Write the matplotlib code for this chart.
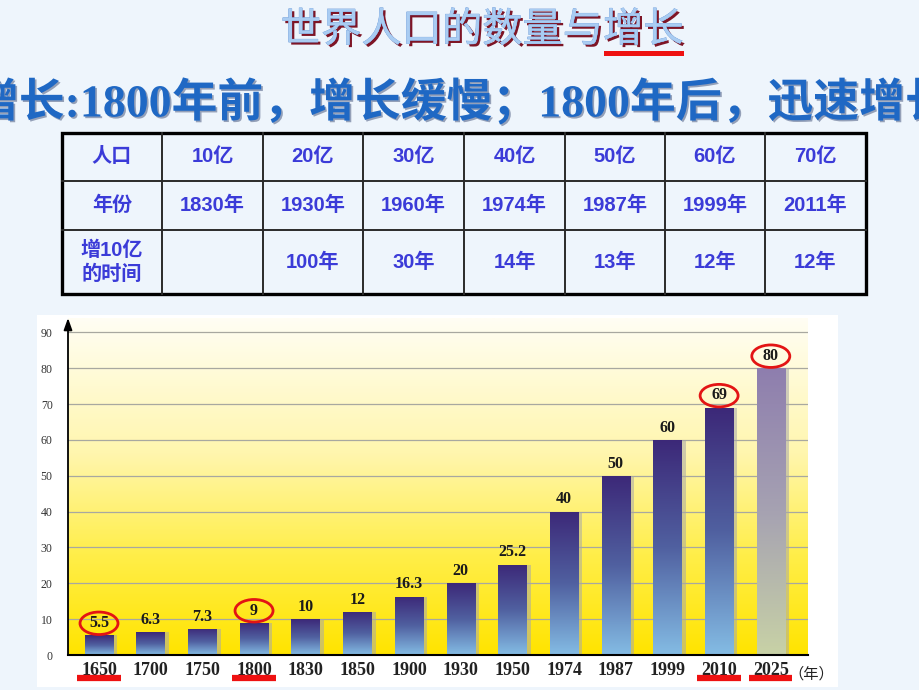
import numpy as np
import matplotlib
matplotlib.use('Agg')
import matplotlib.pyplot as plt
from matplotlib import patheffects as pe
from matplotlib.colors import LinearSegmentedColormap
from matplotlib.patches import Rectangle, Ellipse
from matplotlib.lines import Line2D
from matplotlib.transforms import ScaledTranslation, blended_transform_factory

plt.rcParams['font.family'] = ['Noto Sans CJK SC', 'DejaVu Sans']

# ---------------- data ----------------
title = '世界人口的数量与增长'
subtitle = '增长:1800年前，增长缓慢；1800年后，迅速增长'

table_row_heads = ['人口', '年份', '增10亿\n的时间']
table_pop = ['10亿', '20亿', '30亿', '40亿', '50亿', '60亿', '70亿']
table_year = ['1830年', '1930年', '1960年', '1974年', '1987年', '1999年', '2011年']
table_gap = ['', '100年', '30年', '14年', '13年', '12年', '12年']

years = ['1650', '1700', '1750', '1800', '1830', '1850', '1900',
         '1930', '1950', '1974', '1987', '1999', '2010', '2025']
population = [5.5, 6.3, 7.3, 9, 10, 12, 16.3, 20, 25.2, 40, 50, 60, 69, 80]
value_labels = ['5.5', '6.3', '7.3', '9', '10', '12', '16.3', '20', '25.2',
                '40', '50', '60', '69', '80']
highlighted = ['1650', '1800', '2010', '2025']
projected = ['2025']
y_ticks = [0, 10, 20, 30, 40, 50, 60, 70, 80, 90]
x_unit = '（年）'

# ---------------- figure ----------------
W, H = 920, 690
PAGE = '#EEF5FC'
fig = plt.figure(figsize=(W / 100, H / 100), dpi=100, facecolor=PAGE)

bg = fig.add_axes([0, 0, 1, 1])
bg.set_xlim(0, W)
bg.set_ylim(H, 0)
bg.axis('off')

# white panel behind the chart
bg.add_patch(Rectangle((37, 315), 801, 372, fc='white', ec='none', zorder=0))

# title with 3D-like shadow
bg.text(482, 30, title, fontsize=29, color='#A9CCF2', ha='center', va='center',
        path_effects=[pe.withSimplePatchShadow(offset=(1.8, -1.8), shadow_rgbFace='#7E1526', alpha=1.0),
                      pe.Stroke(linewidth=0.4, foreground='#6C98D6'), pe.Normal()])
bg.add_patch(Rectangle((604, 51), 80, 5, fc='#EE1111', ec='none'))

# subtitle (serif digits, CJK fallback)
bg.text(-27, 103, subtitle, fontsize=33, fontweight='bold', color='#1F68C4',
        family=['Liberation Serif', 'Noto Sans CJK SC'], ha='left', va='center',
        path_effects=[pe.withSimplePatchShadow(offset=(1.2, -1.2), shadow_rgbFace='#4a5a80', alpha=0.55)])

# table
col_edges = [62, 162, 263, 363, 464, 565, 665, 765, 866]
row_edges = [133, 181, 230, 294]
TXT = '#3B3BD8'
TFONT = ['Liberation Sans', 'Noto Sans CJK SC']
for xe in col_edges[1:-1]:
    bg.add_line(Line2D([xe, xe], [row_edges[0], row_edges[-1]], color='#2a2a2a', lw=1.4))
for ye in row_edges[1:-1]:
    bg.add_line(Line2D([col_edges[0], col_edges[-1]], [ye, ye], color='#2a2a2a', lw=1.4))
bg.add_patch(Rectangle((col_edges[0], row_edges[0]), col_edges[-1] - col_edges[0],
                       row_edges[-1] - row_edges[0], fc='none', ec='black', lw=2.4))
rows = [table_pop, table_year, table_gap]
for r in range(3):
    yc = (row_edges[r] + row_edges[r + 1]) / 2
    bg.text((col_edges[0] + col_edges[1]) / 2, yc, table_row_heads[r], ha='center', va='center',
            fontsize=14.5, fontweight='bold', color=TXT, family=TFONT, linespacing=1.3)
    for c in range(7):
        xc = (col_edges[c + 1] + col_edges[c + 2]) / 2
        bg.text(xc, yc, rows[r][c], ha='center', va='center', fontsize=14.5,
                fontweight='bold', color=TXT, family=TFONT)

# ---------------- chart ----------------
ax = fig.add_axes([68 / W, (H - 655) / H, (808 - 68) / W, (655 - 318) / H])
ax.set_facecolor('none')
x = np.arange(len(years))

bg_cmap = LinearSegmentedColormap.from_list(
    'bgy', [(0, '#FFE400'), (0.3, '#FFEE4A'), (0.6, '#FFF6AE'), (1.0, '#FFFEF4')])
grad = np.linspace(0, 1, 256).reshape(-1, 1)
ax.imshow(grad, extent=[0, 1, 0, 1], transform=ax.transAxes, aspect='auto',
          cmap=bg_cmap, origin='lower', zorder=0)

bar_cmap = LinearSegmentedColormap.from_list(
    'bar', [(0, '#84BCE4'), (0.5, '#5060A0'), (1, '#3C2878')])
proj_cmap = LinearSegmentedColormap.from_list(
    'proj', [(0, '#C8D2A6'), (0.5, '#A6A2B2'), (1, '#8E7EAE')])

bw = 0.55
ax.bar(x + 0.08, population, width=bw, color='#A8A8A8', alpha=0.55, zorder=2, lw=0)
bars = ax.bar(x, population, width=bw, color='none', zorder=3, lw=0)
for yr, rect in zip(years, bars):
    x0, w, h = rect.get_x(), rect.get_width(), rect.get_height()
    cm = proj_cmap if yr in projected else bar_cmap
    im = ax.imshow(grad, extent=[x0, x0 + w, 0, h], aspect='auto', cmap=cm,
                   origin='lower', zorder=3)
    im.set_clip_path(rect)

# value labels + highlight ellipses
for xi, val, lab, yr in zip(x, population, value_labels, years):
    ax.annotate(lab, (xi, val), xytext=(0, 3), textcoords='offset points',
                ha='center', va='bottom', fontsize=11.5, fontweight='bold',
                family='Liberation Serif', color='#1a1a1a', zorder=5)
    if yr in highlighted:
        tr = fig.dpi_scale_trans + ScaledTranslation(xi, val, ax.transData)
        ax.add_patch(Ellipse((0, 0.12), 0.38, 0.225, transform=tr, fc='none',
                             ec='#E31414', lw=2, zorder=6, clip_on=False))

ax.set_xlim(-0.6, len(years) - 1 + 0.72)
ax.set_ylim(0, 94)
ax.set_yticks(y_ticks)
ax.set_yticklabels([str(t) for t in y_ticks], family='Liberation Serif', fontsize=8.5, color='#333333')
ax.set_xticks(x)
ax.set_xticklabels(years, family='Liberation Serif', fontsize=13, fontweight='bold', color='#222222')
ax.tick_params(axis='both', length=0)
ax.tick_params(axis='y', pad=11)
ax.tick_params(axis='x', pad=5)
ax.yaxis.grid(True, color='#A8A8A0', lw=0.9)
ax.set_axisbelow(True)
for s in ['top', 'right', 'left']:
    ax.spines[s].set_visible(False)
ax.spines['bottom'].set_linewidth(1.5)
ax.spines['bottom'].set_zorder(7)
ax.annotate('', xy=(0, 1.0), xytext=(0, 0), xycoords='axes fraction',
            arrowprops=dict(arrowstyle='-|>,head_length=0.7,head_width=0.25', color='black',
                            lw=1.3, shrinkA=0, shrinkB=0), zorder=7)

# unit label
ax.annotate(x_unit, xy=(x[-1], 0), xytext=(13, -14), textcoords='offset points',
            ha='left', va='center', fontsize=11, color='#222222', annotation_clip=False)

# red underlines beneath highlighted years
utr = blended_transform_factory(ax.transData, bg.transData)
for xi, yr in zip(x, years):
    if yr in highlighted:
        ax.add_line(Line2D([xi - 0.42, xi + 0.42], [678, 678], transform=utr, color='#EE1111',
                           lw=4.5, solid_capstyle='butt', clip_on=False, zorder=8))

fig.savefig('out.png', dpi=100, facecolor=PAGE)
